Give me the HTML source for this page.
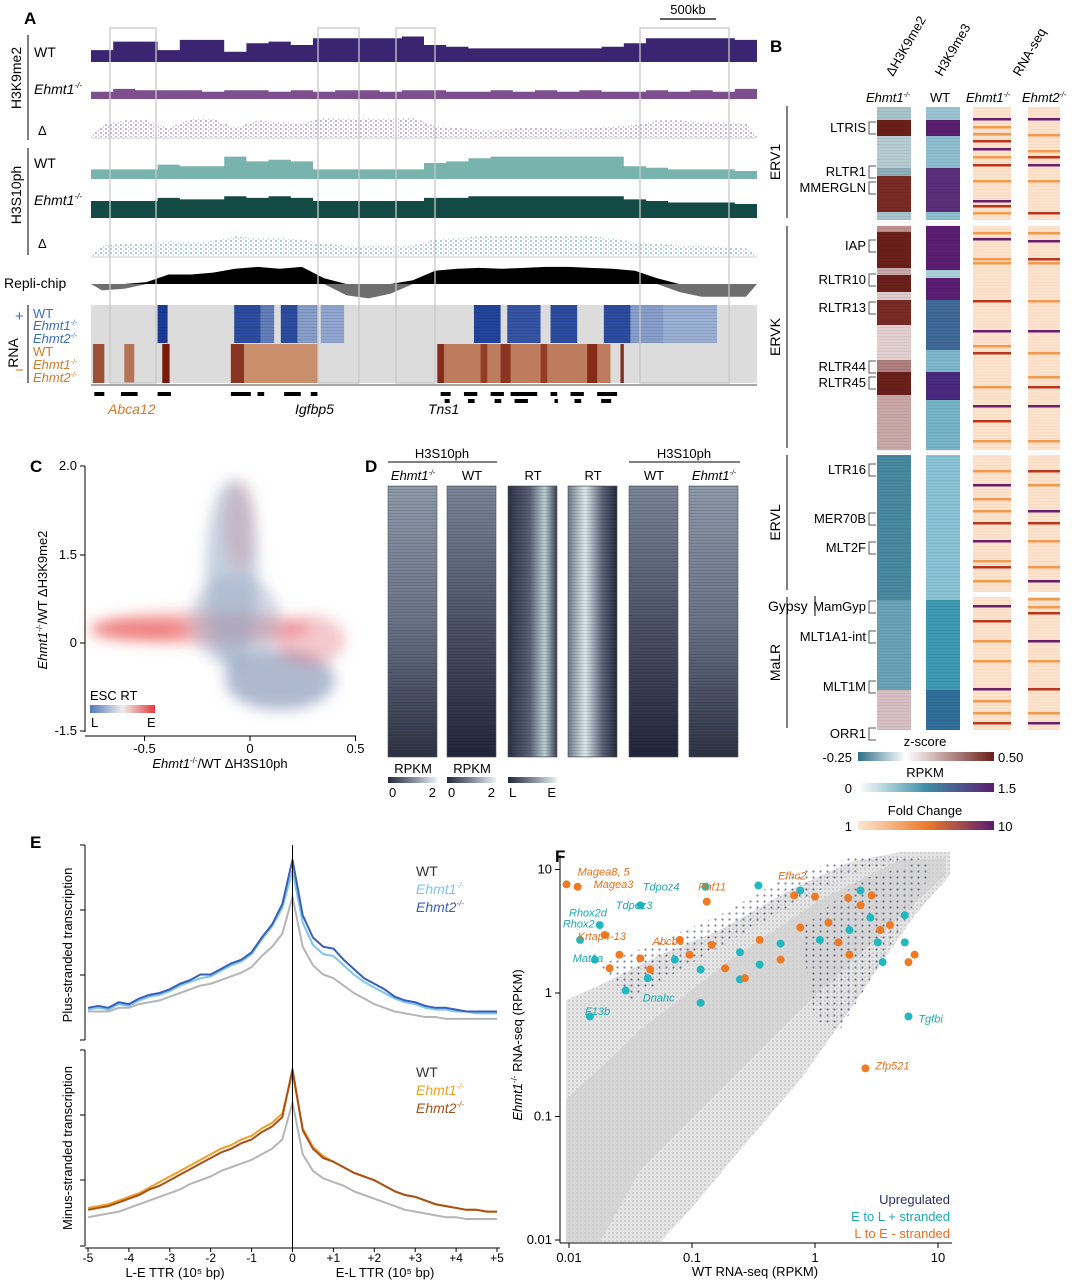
<!DOCTYPE html>
<html><head><meta charset="utf-8">
<style>
html,body{margin:0;padding:0;background:#fff;}
svg{display:block;font-family:"Liberation Sans",Arial,sans-serif;}
.it{font-style:italic;}
</style></head>
<body>
<svg id="fig" width="1077" height="1280" viewBox="0 0 1077 1280" xmlns="http://www.w3.org/2000/svg">
<defs>
<pattern id="dotP" width="5" height="4" patternUnits="userSpaceOnUse"><circle cx="1" cy="1" r="0.8" fill="#6a4a94"/><circle cx="3.5" cy="3" r="0.7" fill="#b49ac8"/></pattern>
<pattern id="dotT" width="5" height="4" patternUnits="userSpaceOnUse"><circle cx="1" cy="1" r="0.8" fill="#3f7f78"/><circle cx="3.5" cy="3" r="0.7" fill="#9cc8c2"/></pattern>
<pattern id="dotN" width="7" height="6" patternUnits="userSpaceOnUse"><circle cx="1.5" cy="1.5" r="1.1" fill="#3a3d6e"/></pattern>
<pattern id="dotG" width="4" height="4" patternUnits="userSpaceOnUse"><rect width="4" height="4" fill="#e4e4e4"/><circle cx="1" cy="1" r="1" fill="#c8c8c8"/></pattern>
<pattern id="hstripe" width="10" height="3" patternUnits="userSpaceOnUse"><rect width="10" height="1" fill="#000" opacity="0.18"/></pattern>
<linearGradient id="gZ" x1="0" x2="1"><stop offset="0" stop-color="#2f6f86"/><stop offset="0.35" stop-color="#ffffff"/><stop offset="1" stop-color="#6b1f1a"/></linearGradient>
<linearGradient id="gR" x1="0" x2="1"><stop offset="0" stop-color="#ffffff"/><stop offset="0.5" stop-color="#3d8fa8"/><stop offset="1" stop-color="#5b1e6e"/></linearGradient>
<linearGradient id="gF" x1="0" x2="1"><stop offset="0" stop-color="#fde6d2"/><stop offset="0.5" stop-color="#ee7d2b"/><stop offset="1" stop-color="#5a1b6e"/></linearGradient>
<linearGradient id="gK" x1="0" x2="1"><stop offset="0" stop-color="#22263a"/><stop offset="0.5" stop-color="#7f8799"/><stop offset="1" stop-color="#e8f3f3"/></linearGradient>
<linearGradient id="gRT" x1="0" x2="1"><stop offset="0" stop-color="#5378b8"/><stop offset="0.5" stop-color="#eeeeee"/><stop offset="1" stop-color="#e33a3a"/></linearGradient>
<linearGradient id="dv1" x1="0" y1="0" x2="0" y2="1"><stop offset="0" stop-color="#8d9aaa"/><stop offset="0.5" stop-color="#6a7487"/><stop offset="1" stop-color="#2e3245"/></linearGradient>
<linearGradient id="dv2" x1="0" y1="0" x2="0" y2="1"><stop offset="0" stop-color="#7b8699"/><stop offset="0.5" stop-color="#4d5368"/><stop offset="1" stop-color="#23263a"/></linearGradient>
<linearGradient id="dv3" x1="0" x2="1"><stop offset="0" stop-color="#2e3246"/><stop offset="0.45" stop-color="#596177"/><stop offset="0.75" stop-color="#b9cfd2"/><stop offset="1" stop-color="#3a3f55"/></linearGradient>
<linearGradient id="dv4" x1="0" x2="1"><stop offset="0" stop-color="#6f7a8c"/><stop offset="0.35" stop-color="#dbe9ea"/><stop offset="0.7" stop-color="#5d6579"/><stop offset="1" stop-color="#262a3d"/></linearGradient>
<filter id="blur6"><feGaussianBlur stdDeviation="7"/></filter>
</defs>

<g id="panelA">
<text x="24" y="24" font-size="17" font-weight="bold">A</text>
<line x1="660" y1="19" x2="716" y2="19" stroke="#000" stroke-width="1.2"/>
<text x="688" y="14" font-size="13" text-anchor="middle">500kb</text>
<g id="tracksA"></g>
<line x1="28" y1="35" x2="28" y2="140" stroke="#000"/>
<line x1="28" y1="148" x2="28" y2="255" stroke="#000"/>
<line x1="28" y1="305" x2="28" y2="383" stroke="#000"/>
<text transform="translate(21,78) rotate(-90)" font-size="14" text-anchor="middle">H3K9me2</text>
<text transform="translate(21,195) rotate(-90)" font-size="14" text-anchor="middle">H3S10ph</text>
<text transform="translate(18,353) rotate(-90)" font-size="14" text-anchor="middle">RNA</text>
<text x="34" y="57" font-size="14">WT</text>
<text x="34" y="94" font-size="14" class="it">Ehmt1<tspan font-size="8" dy="-6">-/-</tspan></text>
<text x="38" y="135" font-size="13">Δ</text>
<text x="34" y="168" font-size="14">WT</text>
<text x="34" y="205" font-size="14" class="it">Ehmt1<tspan font-size="8" dy="-6">-/-</tspan></text>
<text x="38" y="248" font-size="13">Δ</text>
<text x="4" y="288" font-size="14">Repli-chip</text>
<text x="15" y="321" font-size="15" fill="#3a6fc0">+</text>
<text x="15" y="375" font-size="15" fill="#d07a2a">−</text>
<text x="33" y="318" font-size="13" fill="#3a6fc0">WT</text>
<text x="33" y="330" font-size="13" fill="#3a6fc0" class="it">Ehmt1<tspan font-size="7" dy="-5">-/-</tspan></text>
<text x="33" y="343" font-size="13" fill="#3a6fc0" class="it">Ehmt2<tspan font-size="7" dy="-5">-/-</tspan></text>
<text x="33" y="356" font-size="13" fill="#d07a2a">WT</text>
<text x="33" y="369" font-size="13" fill="#d07a2a" class="it">Ehmt1<tspan font-size="7" dy="-5">-/-</tspan></text>
<text x="33" y="382" font-size="13" fill="#d07a2a" class="it">Ehmt2<tspan font-size="7" dy="-5">-/-</tspan></text>
<text x="108" y="414" font-size="14" class="it" fill="#d07a2a">Abca12</text>
<text x="295" y="414" font-size="14" class="it">Igfbp5</text>
<text x="428" y="414" font-size="14" class="it">Tns1</text>
</g>

<g id="panelB">
<text x="770" y="52" font-size="17" font-weight="bold">B</text>
<text transform="translate(893,77) rotate(-60)" font-size="13">ΔH3K9me2</text>
<text transform="translate(942,77) rotate(-60)" font-size="13">H3K9me3</text>
<text transform="translate(1020,77) rotate(-60)" font-size="13">RNA-seq</text>
<text x="866" y="102" font-size="13" class="it">Ehmt1<tspan font-size="7" dy="-5">-/-</tspan></text>
<text x="930" y="102" font-size="13">WT</text>
<text x="966" y="102" font-size="13" class="it">Ehmt1<tspan font-size="7" dy="-5">-/-</tspan></text>
<text x="1022" y="102" font-size="13" class="it">Ehmt2<tspan font-size="7" dy="-5">-/-</tspan></text>
<g id="heatB"></g>
<g id="labelsB"></g>
</g>

<g id="panelC">
<text x="30" y="472" font-size="17" font-weight="bold">C</text>
<g filter="url(#blur6)">
<ellipse cx="200" cy="628" rx="110" ry="16" fill="#ee5a5a" opacity="0.45"/>
<ellipse cx="140" cy="630" rx="50" ry="10" fill="#e84848" opacity="0.5"/>
<ellipse cx="232" cy="575" rx="26" ry="95" fill="#8aa0c0" opacity="0.5"/>
<ellipse cx="240" cy="525" rx="16" ry="45" fill="#c8a0b0" opacity="0.5"/>
<ellipse cx="280" cy="680" rx="55" ry="30" fill="#6c80aa" opacity="0.55"/>
<ellipse cx="310" cy="640" rx="35" ry="25" fill="#e06070" opacity="0.35"/>
<ellipse cx="235" cy="620" rx="45" ry="45" fill="#9aa6c4" opacity="0.45"/>
</g>
<line x1="85" y1="466" x2="85" y2="732" stroke="#000"/>
<line x1="85" y1="736" x2="356" y2="736" stroke="#000"/>
<g id="ticksC"></g>
<text transform="translate(47,600) rotate(-90)" font-size="13" text-anchor="middle"><tspan class="it">Ehmt1</tspan><tspan font-size="8" dy="-5">-/-</tspan><tspan dy="5">/WT ΔH3K9me2</tspan></text>
<text x="220" y="768" font-size="13" text-anchor="middle"><tspan class="it">Ehmt1</tspan><tspan font-size="8" dy="-5">-/-</tspan><tspan dy="5">/WT ΔH3S10ph</tspan></text>
<text x="90" y="700" font-size="13">ESC RT</text>
<rect x="90" y="705" width="65" height="8" fill="url(#gRT)"/>
<text x="91" y="727" font-size="13">L</text>
<text x="147" y="727" font-size="13">E</text>
</g>

<g id="panelD">
<text x="365" y="472" font-size="17" font-weight="bold">D</text>
<text x="442" y="458" font-size="13" text-anchor="middle">H3S10ph</text>
<line x1="388" y1="462" x2="497" y2="462" stroke="#000"/>
<text x="684" y="458" font-size="13" text-anchor="middle">H3S10ph</text>
<line x1="629" y1="462" x2="740" y2="462" stroke="#000"/>
<g id="heatD"></g>
</g>

<g id="panelE">
<text x="30" y="848" font-size="17" font-weight="bold">E</text>
<g id="plotE"></g>
</g>

<g id="panelF">
<text x="555" y="862" font-size="17" font-weight="bold">F</text>
<g id="plotF"></g>
</g>
</svg>

<script>
var NS="http://www.w3.org/2000/svg";
function mk(tag,attrs,parent){var e=document.createElementNS(NS,tag);for(var k in attrs)e.setAttribute(k,attrs[k]);parent.appendChild(e);return e;}

var k9WT=[.35,.6,.6,.35,.65,.65,.3,.55,.6,.5,.7,.7,.7,.7,.75,.5,.45,.4,.4,.4,.4,.4,.4,.45,.55,.7,.7,.7,.7,.65];
var k9KO=[.25,.35,.3,.3,.3,.25,.3,.3,.25,.3,.25,.3,.3,.25,.3,.3,.25,.25,.3,.25,.3,.25,.3,.25,.25,.3,.25,.3,.25,.35];
var k9D=[.4,.55,.55,.3,.6,.6,.3,.55,.5,.45,.65,.6,.6,.6,.65,.35,.3,.25,.25,.3,.3,.25,.3,.35,.4,.55,.55,.5,.5,.45];
var s10WT=[.3,.3,.3,.45,.4,.4,.7,.55,.6,.55,.3,.3,.3,.3,.3,.5,.55,.65,.7,.7,.7,.7,.7,.7,.4,.35,.3,.3,.3,.25];
var s10KO=[.55,.55,.55,.65,.6,.6,.7,.65,.7,.65,.55,.55,.55,.55,.55,.65,.65,.7,.7,.7,.7,.7,.7,.7,.6,.55,.5,.5,.5,.45];
var s10D=[.35,.4,.4,.5,.45,.5,.65,.6,.6,.55,.4,.35,.35,.35,.35,.55,.6,.65,.65,.65,.65,.65,.65,.6,.45,.4,.35,.35,.3,.25];
var repli=[-.4,-.3,.1,.5,.5,.6,.8,.9,.8,.9,.3,-.7,-.9,-.6,.2,.7,.8,.85,.8,.85,.9,.9,.85,.8,.7,.3,-.5,-.8,-.8,-.8];
var plusSeg=[[.10,.115,1],[.215,.255,.9],[.255,.275,.6],[.285,.31,.9],[.31,.34,.4],[.345,.38,.35],[.575,.615,.95],[.625,.675,.85],[.69,.73,.9],[.77,.81,.9],[.81,.86,.4],[.86,.94,.3]];
var minusSeg=[[.003,.02,.7],[.05,.065,.5],[.107,.118,1],[.21,.23,.85],[.23,.34,.35],[.52,.53,.9],[.53,.78,.45],[.585,.595,.8],[.615,.63,.85],[.675,.685,.8],[.745,.76,.9],[.795,.8,.9]];
var geneBlocks=[[.005,.02],[.045,.07],[.1,.12],[.21,.24],[.25,.26],[.29,.315],[.33,.34],[.525,.54],[.56,.58],[.6,.62],[.63,.67],[.69,.7],[.72,.74],[.76,.79]];

(function(){
 var g=document.getElementById('tracksA');
 var X0=91,X1=757,W=X1-X0;
 var bw=W/k9WT.length;
 function xs(f){return X0+f*W;}
 function areaTrack(vals,yb,h,color,name){
   var d='M'+X0+','+yb;
   for(var i=0;i<vals.length;i++){var y=yb-vals[i]*h;d+=' L'+(X0+i*bw)+','+y+' L'+(X0+(i+1)*bw)+','+y;}
   d+=' L'+X1+','+yb+' Z';
   var p=mk('path',{d:d,fill:color},g);
   
   
 }
 function dotTrack(vals,yb,h,pat,name){
   var d='M'+X0+','+yb;
   for(var i=0;i<vals.length;i++){var y=yb-vals[i]*h;d+=' L'+(X0+(i+.5)*bw)+','+y;}
   d+=' L'+X1+','+yb+' Z';
   var p=mk('path',{d:d,fill:'url(#'+pat+')',opacity:0.9},g);
   
   
   mk('line',{x1:X0,y1:yb+1,x2:X1,y2:yb+1,stroke:'#ccc'},g);
 }
 areaTrack(k9WT,62,34,'#3b2470','k9-wt-track');
 areaTrack(k9KO,99,29,'#7d4f8e','k9-ehmt1-track');
 dotTrack(k9D,137,30,'dotP','k9-delta-track');
 areaTrack(s10WT,179,32,'#79b3ad','s10-wt-track');
 areaTrack(s10KO,218,31,'#134a44','s10-ehmt1-track');
 dotTrack(s10D,256,30,'dotT','s10-delta-track');
 var base=284;
 var pos='M'+X0+','+base,neg='M'+X0+','+base;
 for(var i=0;i<repli.length;i++){var x=X0+(i+.5)*bw,v=repli[i];
   pos+=' L'+x+','+(base-Math.max(v,0)*19);neg+=' L'+x+','+(base-Math.min(v,0)*16);}
 pos+=' L'+X1+','+base+' Z';neg+=' L'+X1+','+base+' Z';
 var pp=mk('path',{d:pos,fill:'#000'},g);
 
 
 var pn=mk('path',{d:neg,fill:'#6e6e6e'},g);
 
 
 var bg=mk('rect',{x:X0,y:305,width:W,height:78,fill:'#dcdcdc'},g);
 
 
 function blue(v){var a=[210,225,240],b=[25,60,150];return 'rgb('+a.map(function(c,i){return Math.round(c+(b[i]-c)*v)}).join(',')+')';}
 function orng(v){var a=[245,205,160],b=[120,25,10];return 'rgb('+a.map(function(c,i){return Math.round(c+(b[i]-c)*v)}).join(',')+')';}
 plusSeg.forEach(function(s){var r=mk('rect',{x:xs(s[0]),y:305,width:(s[1]-s[0])*W,height:38,fill:blue(s[2])},g);
   
   
   mk('rect',{x:xs(s[0]),y:305,width:(s[1]-s[0])*W,height:38,fill:'url(#hstripe)',opacity:.5},g);});
 minusSeg.forEach(function(s){var r=mk('rect',{x:xs(s[0]),y:344,width:(s[1]-s[0])*W,height:39,fill:orng(s[2])},g);
   
   });
 mk('line',{x1:X0,y1:385,x2:X1,y2:385,stroke:'#888',"stroke-width":1.5},g);
 geneBlocks.forEach(function(s,i){var r=mk('rect',{x:xs(s[0]),y:392,width:(s[1]-s[0])*W,height:4,fill:'#000'},g);
   
   
   if(i>6) mk('rect',{x:xs(s[0])+4,y:399,width:(s[1]-s[0])*W*0.5,height:4,fill:'#000'},g);});
 [[110,156],[318,359],[396,435],[640,729]].forEach(function(b){
   var r=mk('rect',{x:b[0],y:28,width:b[1]-b[0],height:355,fill:'none',stroke:'#c8c8c8','stroke-width':1.3},g);
   
   });
})();

var famLabels=['LTRIS','RLTR1','MMERGLN','IAP','RLTR10','RLTR13','RLTR44','RLTR45','LTR16','MER70B','MLT2F','MamGyp','MLT1A1-int','MLT1M','ORR1'];
var famY=[128,172,188,246,280,308,367,383,470,519,548,607,637,687,734];
var groupNames=['ERV1','ERVK','ERVL','MaLR'];
var groupY0=[106,226,455,597],groupY1=[218,448,590,728];
var colK9=[[107,120,'#a8c4cc'],[120,136,'#6b1f1a'],[136,168,'#b5cdd3'],[168,176,'#8eb0ba'],[176,212,'#7a2a25'],[212,220,'#a8c4cc'],[226,232,'#c09090'],[232,268,'#6b1f1a'],[268,275,'#c8a8a8'],[275,292,'#6b1f1a'],[292,300,'#dcc'],[300,325,'#7a2a25'],[325,360,'#e4d0d0'],[360,372,'#b08080'],[372,395,'#6b1f1a'],[395,450,'#caa8a8'],[455,600,'#4a8aa0'],[600,690,'#6aa3b5'],[690,730,'#d9c0c4']];
var colK9me3=[[107,120,'#9cc5d3'],[120,136,'#5a1e6e'],[136,168,'#8ebfd0'],[168,212,'#5a2e7a'],[212,220,'#8ebfd0'],[226,270,'#5b1e72'],[270,278,'#a9cfdb'],[278,300,'#5b1e72'],[300,350,'#3f6a9a'],[350,372,'#7fb8cc'],[372,400,'#4a2a80'],[400,450,'#76b4c8'],[455,600,'#8ac4d6'],[600,690,'#3e9ab2'],[690,730,'#2f6f9a']];
var rnaStripes1=[118,126,133,140,148,156,164,180,200,205,212,232,238,258,262,300,330,345,352,386,405,420,440,470,484,498,510,522,540,560,566,580,605,620,640,660,688,700,712,722];
var rnaStripes2=[118,134,150,156,164,180,212,232,240,258,262,300,330,352,376,386,405,440,470,484,510,522,540,566,580,598,606,612,640,660,688,712,722];
(function(){
 var g=document.getElementById('heatB');
 function bands(arr,x,w,name){arr.forEach(function(s){var r=mk('rect',{x:x,y:s[0],width:w,height:s[1]-s[0],fill:s[2]},g);
   
   });
   mk('rect',{x:x,y:107,width:w,height:623,fill:'url(#hstripe)',opacity:.35},g);}
 bands(colK9,877,34,'dh3k9me2-band');
 bands(colK9me3,926,34,'h3k9me3-band');
 [[973,38,rnaStripes1,'rna-ehmt1-stripe'],[1028,32,rnaStripes2,'rna-ehmt2-stripe']].forEach(function(c){
   [[107,220],[226,450],[455,592],[597,730]].forEach(function(r){mk('rect',{x:c[0],y:r[0],width:c[1],height:r[1]-r[0],fill:'#fde2cc'},g);});
   mk('rect',{x:c[0],y:107,width:c[1],height:623,fill:'url(#hstripe)',opacity:.15},g);
   c[2].forEach(function(y,i){var col=(i%4==0)?'#6a1e6e':(i%3==0?'#b8361c':'#f09a50');
     var r=mk('rect',{x:c[0],y:y,width:c[1],height:2.5,fill:col},g);
     
     });
 });
 var L=document.getElementById('labelsB');
 famLabels.forEach(function(t,i){var e=mk('text',{x:866,y:famY[i]+4,'font-size':13,'text-anchor':'end'},L);e.textContent=t;
   
   
   mk('path',{d:'M876,'+(famY[i]-6)+' h-7 v12 h7',fill:'none',stroke:'#555'},L);});
 groupNames.forEach(function(t,i){mk('line',{x1:787,y1:groupY0[i],x2:787,y2:groupY1[i],stroke:'#000'},L);
   var e=mk('text',{transform:'translate(780,'+((groupY0[i]+groupY1[i])/2)+') rotate(-90)','font-size':14,'text-anchor':'middle'},L);e.textContent=t;
   
   });
 var gy=mk('text',{x:768,y:611,'font-size':14},L);gy.textContent='Gypsy';
 
 
 mk('line',{x1:815,y1:596,x2:815,y2:616,stroke:'#000'},L);
 var cb=[['z-score',746,'gZ','-0.25','0.50'],['RPKM',777,'gR','0','1.5'],['Fold Change',815,'gF','1','10']];
 cb.forEach(function(c,i){var t=mk('text',{x:925,y:c[1],'font-size':13,'text-anchor':'middle'},L);t.textContent=c[0];
   
   
   var r=mk('rect',{x:858,y:c[1]+6,width:136,height:9,fill:'url(#'+c[2]+')'},L);
   
   
   var a=mk('text',{x:852,y:c[1]+16,'font-size':13,'text-anchor':'end'},L);a.textContent=c[3];
   var b=mk('text',{x:998,y:c[1]+16,'font-size':13},L);b.textContent=c[4];});
})();

var cXTicks=['-0.5','0','0.5'],cXVals=[-0.5,0,0.5];
var cYTicks=['2.0','1.5','0','-1.5'],cYPix=[466,555,643,731];
(function(){var g=document.getElementById('ticksC');
 function xp(v){return 250+v*211;}
 cXVals.forEach(function(v,i){mk('line',{x1:xp(v),y1:736,x2:xp(v),y2:741,stroke:'#000'},g);
   var t=mk('text',{x:xp(v),y:753,'font-size':13,'text-anchor':'middle'},g);t.textContent=cXTicks[i];
   
   });
 cYTicks.forEach(function(s,i){mk('line',{x1:80,y1:cYPix[i],x2:85,y2:cYPix[i],stroke:'#000'},g);
   var t=mk('text',{x:77,y:cYPix[i]+4,'font-size':13,'text-anchor':'end'},g);t.textContent=s;
   
   });
})();

var dCols=['Ehmt1-/-','WT','RT','RT','WT','Ehmt1-/-'];
var dX=[388,447,508,568,629,689];
var dFill=['dv1','dv2','dv3','dv4','dv2','dv1'];
(function(){var g=document.getElementById('heatD');
 dCols.forEach(function(c,i){
   var it=c.indexOf('Ehmt')==0;
   var t=mk('text',{x:dX[i]+25,y:480,'font-size':13,'text-anchor':'middle'},g);
   if(it){t.setAttribute('font-style','italic');t.textContent='Ehmt1';var s=mk('tspan',{'font-size':7,dy:-5},t);s.textContent='-/-';}else t.textContent=c;
   
   
   var r=mk('rect',{x:dX[i],y:486,width:49,height:271,fill:'url(#'+dFill[i]+')',stroke:'#555','stroke-width':.6},g);
   
   
   mk('rect',{x:dX[i],y:486,width:49,height:271,fill:'url(#hstripe)',opacity:.6},g);
 });
 [[388,'RPKM','0','2'],[447,'RPKM','0','2'],[508,'','L','E']].forEach(function(c){
   if(c[1]){var t=mk('text',{x:c[0]+25,y:773,'font-size':13,'text-anchor':'middle'},g);t.textContent=c[1];}
   var r=mk('rect',{x:c[0],y:777,width:49,height:6,fill:'url(#gK)'},g);
   
   
   var a=mk('text',{x:c[0]+1,y:797,'font-size':13},g);a.textContent=c[2];
   var b=mk('text',{x:c[0]+48,y:797,'font-size':13,'text-anchor':'end'},g);b.textContent=c[3];});
})();

var eX=[-5,-4.75,-4.5,-4.25,-4,-3.75,-3.5,-3.25,-3,-2.75,-2.5,-2.25,-2,-1.75,-1.5,-1.25,-1,-0.75,-0.5,-0.25,0,0.25,0.5,0.75,1,1.25,1.5,1.75,2,2.25,2.5,2.75,3,3.25,3.5,3.75,4,4.25,4.5,4.75,5];
var plusE2=[.12,.13,.12,.15,.14,.17,.19,.2,.22,.25,.27,.3,.3,.33,.36,.38,.42,.5,.57,.68,.92,.62,.5,.45,.44,.38,.33,.28,.25,.22,.18,.16,.15,.13,.12,.12,.11,.1,.1,.1,.1];
var plusE1=[.11,.12,.11,.14,.13,.16,.18,.19,.21,.24,.26,.28,.29,.32,.35,.37,.41,.49,.56,.66,.86,.58,.46,.41,.4,.35,.3,.26,.23,.2,.17,.15,.14,.12,.11,.11,.1,.1,.09,.09,.09];
var plusWT=[.1,.1,.1,.12,.12,.14,.15,.16,.18,.2,.22,.24,.25,.27,.29,.31,.34,.4,.45,.52,.72,.45,.35,.3,.28,.24,.2,.17,.14,.12,.1,.09,.08,.07,.07,.06,.06,.06,.06,.06,.06];
var minusE2=[.12,.13,.14,.16,.18,.2,.23,.25,.28,.31,.34,.37,.4,.43,.45,.48,.5,.54,.57,.62,.88,.55,.45,.4,.38,.35,.32,.3,.28,.25,.22,.2,.19,.17,.15,.14,.13,.12,.12,.11,.11];
var minusE1=[.13,.14,.15,.17,.19,.21,.24,.27,.3,.33,.36,.39,.42,.45,.47,.5,.52,.56,.59,.64,.86,.56,.46,.41,.38,.35,.32,.3,.28,.25,.22,.2,.19,.17,.15,.14,.13,.12,.12,.11,.11];
var minusWT=[.08,.09,.1,.11,.13,.15,.17,.19,.21,.23,.26,.28,.3,.33,.35,.37,.39,.42,.45,.5,.7,.42,.33,.29,.27,.25,.22,.2,.18,.16,.14,.12,.11,.1,.09,.08,.08,.07,.07,.07,.07];
var eTickLabels=['-5','-4','-3','-2','-1','0','+1','+2','+3','+4','+5'];
var eTickVals=[-5,-4,-3,-2,-1,0,1,2,3,4,5];
(function(){var g=document.getElementById('plotE');
 function xp(v){return 88+(v+5)*40.9;}
 function line(vals,yb,h,col,w,name){var d='';vals.forEach(function(v,i){d+=(i?' L':'M')+xp(eX[i])+','+(yb-v*h);});
   var p=mk('path',{d:d,fill:'none',stroke:col,'stroke-width':w,'stroke-linejoin':'round'},g);
   
   }
 line(plusWT,1030,185,'#b5b5b5',2,'plus-wt-line');
 line(plusE1,1030,185,'#7cc6ee',2,'plus-ehmt1-line');
 line(plusE2,1030,185,'#3a5fb8',2,'plus-ehmt2-line');
 line(minusWT,1232,185,'#b5b5b5',2,'minus-wt-line');
 line(minusE1,1232,185,'#f0a020',2,'minus-ehmt1-line');
 line(minusE2,1232,185,'#a8501a',2,'minus-ehmt2-line');
 mk('line',{x1:85,y1:845,x2:85,y2:1040,stroke:'#000'},g);
 mk('line',{x1:85,y1:1050,x2:85,y2:1246,stroke:'#000'},g);
 mk('line',{x1:85,y1:1248,x2:500,y2:1248,stroke:'#000'},g);
 mk('line',{x1:xp(0),y1:845,x2:xp(0),y2:1248,stroke:'#000'},g);
 [845,910,975,1040].forEach(function(y){mk('line',{x1:80,y1:y,x2:85,y2:y,stroke:'#000'},g);});
 [1050,1115,1180,1246].forEach(function(y){mk('line',{x1:80,y1:y,x2:85,y2:y,stroke:'#000'},g);});
 eTickVals.forEach(function(v,i){mk('line',{x1:xp(v),y1:1248,x2:xp(v),y2:1252,stroke:'#000'},g);
   var t=mk('text',{x:xp(v),y:1262,'font-size':12,'text-anchor':'middle'},g);t.textContent=eTickLabels[i];
   
   });
 var a=mk('text',{x:175,y:1277,'font-size':13,'text-anchor':'middle'},g);a.textContent='L-E TTR (10⁵ bp)';
 
 
 var b=mk('text',{x:385,y:1277,'font-size':13,'text-anchor':'middle'},g);b.textContent='E-L TTR (10⁵ bp)';
 
 
 var y1=mk('text',{transform:'translate(72,945) rotate(-90)','font-size':13,'text-anchor':'middle'},g);y1.textContent='Plus-stranded transcription';
 
 
 var y2=mk('text',{transform:'translate(72,1148) rotate(-90)','font-size':13,'text-anchor':'middle'},g);y2.textContent='Minus-stranded transcription';
 
 
 [['WT','#333',876,false],['Ehmt1','#7cc6ee',894,true],['Ehmt2','#3a5fb8',912,true],['WT','#333',1077,false],['Ehmt1','#f0a020',1095,true],['Ehmt2','#a8501a',1113,true]].forEach(function(l){
   var t=mk('text',{x:416,y:l[2],'font-size':14,fill:l[1]},g);t.textContent=l[0];
   if(l[3]){t.setAttribute('font-style','italic');var s=mk('tspan',{'font-size':8,dy:-6},t);s.textContent='-/-';}
   
   });
})();

var cyanWT=[-0.89,-0.46,-0.12,0.37,0.45,0.51,0.73,-1.42,-1.75,-1.91,-1.79,-1.36,-0.93,-0.61,-0.28,0.04,0.28,-1.54,-1.14,-0.93,-1.83,0.73,0.55,-0.61,-0.45,0.76];
var cyanKO=[0.86,0.87,0.83,0.83,0.61,0.41,0.41,0.71,0.55,0.43,0.27,0.12,0.19,0.33,0.40,0.43,0.51,0.02,0.27,-0.08,-0.19,0.63,0.25,0.11,0.23,-0.19];
var orWT=[-2.02,-1.93,-0.88,-0.17,0,0.27,0.37,0.46,-1.59,-1.67,-1.42,-1.34,-1.10,-1.02,-0.84,-0.73,-0.45,-0.28,-0.12,0.11,0.19,0.28,0.53,0.61,0.76,0.81,0.41,-1.71,-0.57];
var orKO=[0.88,0.86,0.74,0.79,0.78,0.77,0.71,0.79,0.31,0.20,0.28,0.19,0.43,0.31,0.39,0.20,0.43,0.27,0.53,0.57,0.41,0.31,0.51,0.55,0.25,0.31,-0.61,0.47,0.12];
var fTickLabels=['0.01','0.1','1','10'];
var fTickLog=[-2,-1,0,1];
var geneNames=['Magea8, 5','Magea3','Tdpoz4','Phf11','Efhc2','Rhox2d','Tdpoz3','Rhox2','Krtap4-13','Abcb5','Mat1a','Dnahc','F13b','Tgfbi','Zfp521'];
var geneColor=['o','o','c','o','o','c','c','c','o','o','c','c','c','c','o'];
var geneLogWT=[-1.93,-1.8,-1.4,-0.95,-0.3,-2.0,-1.62,-2.05,-1.93,-1.32,-1.97,-1.4,-1.87,0.84,0.49];
var geneLogKO=[0.95,0.85,0.83,0.83,0.92,0.62,0.68,0.53,0.43,0.39,0.25,-0.07,-0.18,-0.24,-0.62];
(function(){var g=document.getElementById('plotF');
 function xp(l){return 815+l*123;}
 function yp(l){return 993-l*123.5;}
 var cloud=mk('path',{d:'M566,1000 L600,985 L660,955 L720,930 L790,890 L850,862 L900,852 L950,852 L950,875 L915,915 L880,965 L850,1010 L800,1080 L740,1150 L690,1210 L660,1242 L566,1242 Z',fill:'url(#dotG)'},g);
 
 
 mk('path',{d:'M566,1100 L640,1030 L730,960 L820,900 L900,860 L945,858 L945,875 L880,935 L800,1010 L720,1090 L640,1170 L600,1242 L566,1242 Z',fill:'#d0d0d0',opacity:.7},g);
 var up=mk('path',{d:'M600,965 L650,945 L720,915 L790,875 L860,855 L945,855 L860,870 L800,900 L740,935 L680,970 L630,1000 Z M800,930 L860,880 L925,860 L930,875 L900,930 L870,980 L840,1030 L815,1020 Z',fill:'url(#dotN)',opacity:.65},g);
 
 
 mk('line',{x1:560,y1:855,x2:560,y2:1243,stroke:'#000'},g);
 mk('line',{x1:560,y1:1243,x2:952,y2:1243,stroke:'#000'},g);
 fTickLog.forEach(function(l,i){mk('line',{x1:xp(l),y1:1243,x2:xp(l),y2:1248,stroke:'#000'},g);
   var t=mk('text',{x:xp(l),y:1262,'font-size':13,'text-anchor':'middle'},g);t.textContent=fTickLabels[i];
   
   
   mk('line',{x1:555,y1:yp(l),x2:560,y2:yp(l),stroke:'#000'},g);
   var u=mk('text',{x:552,y:yp(l)+4,'font-size':13,'text-anchor':'end'},g);u.textContent=fTickLabels[i];
   
   });
 cyanWT.forEach(function(v,i){var c=mk('circle',{cx:xp(v),cy:yp(cyanKO[i]),r:4,fill:'#22b8c0'},g);
   
   });
 orWT.forEach(function(v,i){var c=mk('circle',{cx:xp(v),cy:yp(orKO[i]),r:4,fill:'#f07a22'},g);
   
   });
 geneNames.forEach(function(n,i){var t=mk('text',{x:xp(geneLogWT[i]),y:yp(geneLogKO[i]),'font-size':11,'font-style':'italic',fill:geneColor[i]=='o'?'#e8701a':'#1aaab2'},g);t.textContent=n;
   
   });
 var xl=mk('text',{x:755,y:1276,'font-size':13,'text-anchor':'middle'},g);xl.textContent='WT RNA-seq (RPKM)';
 
 
 var yl=mk('text',{transform:'translate(522,1045) rotate(-90)','font-size':13,'text-anchor':'middle'},g);
 
 
 var s1=mk('tspan',{'font-style':'italic'},yl);s1.textContent='Ehmt1';
 var s2=mk('tspan',{'font-size':8,dy:-5},yl);s2.textContent='-/-';
 var s3=mk('tspan',{dy:5},yl);s3.textContent=' RNA-seq (RPKM)';
 [['Upregulated','#2a2d6a',1204],['E to L + stranded','#1aaab2',1221],['L to E  - stranded','#e8701a',1238]].forEach(function(l){
   var t=mk('text',{x:950,y:l[2],'font-size':13,'text-anchor':'end',fill:l[1]},g);t.textContent=l[0];
   
   });
})();
</script>
</body></html>
